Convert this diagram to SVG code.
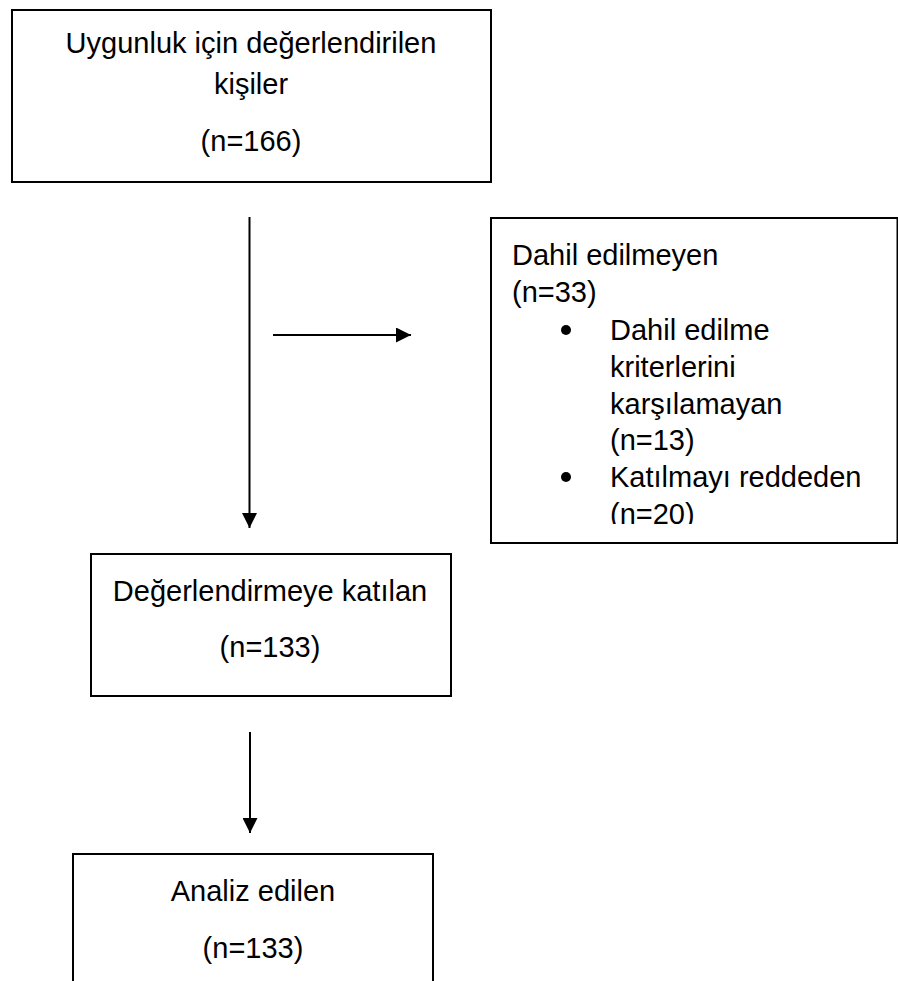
<svg xmlns="http://www.w3.org/2000/svg" width="898" height="981" viewBox="0 0 898 981">
  <style>
    .box { fill: #ffffff; stroke: #000000; stroke-width: 2; }
    .t { font-family: "Liberation Sans", Arial, sans-serif; font-size: 29px; fill: #000000; }
    .c { text-anchor: middle; }
    .conn { stroke: #000000; stroke-width: 2; fill: none; marker-end: url(#arrow); }
  </style>
  <defs>
    <marker id="arrow" markerUnits="userSpaceOnUse" markerWidth="15" markerHeight="15" refX="15" refY="7.5" orient="auto">
      <path d="M0,0 L15,7.5 L0,15 z" fill="#000000"/>
    </marker>
    <clipPath id="clipR">
      <rect x="491" y="218" width="407" height="306"/>
    </clipPath>
  </defs>
  <rect width="898" height="981" fill="#ffffff"/>

  <g id="node-assessed">
    <rect class="box" x="12" y="10" width="479" height="172"/>
    <text class="t c" x="251" y="53">Uygunluk için değerlendirilen</text>
    <text class="t c" x="251" y="94">kişiler</text>
    <text class="t c" x="251" y="151">(n=166)</text>
  </g>

  <g id="node-excluded">
    <rect class="box" x="491" y="218" width="406.5" height="325"/>
    <g clip-path="url(#clipR)">
      <text class="t" x="512" y="265">Dahil edilmeyen</text>
      <text class="t" x="512" y="302">(n=33)</text>
      <circle cx="566" cy="330" r="5"/>
      <text class="t" x="610" y="340">Dahil edilme</text>
      <text class="t" x="610" y="377">kriterlerini</text>
      <text class="t" x="610" y="414">karşılamayan</text>
      <text class="t" x="610" y="450">(n=13)</text>
      <circle cx="566" cy="477" r="5"/>
      <text class="t" x="610" y="487">Katılmayı reddeden</text>
      <text class="t" x="610" y="524">(n=20)</text>
    </g>
  </g>

  <g id="node-participated">
    <rect class="box" x="91" y="554" width="360" height="142"/>
    <text class="t c" x="270" y="601">Değerlendirmeye katılan</text>
    <text class="t c" x="270" y="657">(n=133)</text>
  </g>

  <g id="node-analyzed">
    <rect class="box" x="73" y="854" width="360" height="150"/>
    <text class="t c" x="253" y="901">Analiz edilen</text>
    <text class="t c" x="253" y="958">(n=133)</text>
  </g>

  <g id="connectors">
    <line class="conn" x1="249.5" y1="217" x2="249.5" y2="528"/>
    <line class="conn" x1="273" y1="335" x2="411" y2="335"/>
    <line class="conn" x1="250" y1="732" x2="250" y2="833"/>
  </g>
</svg>
